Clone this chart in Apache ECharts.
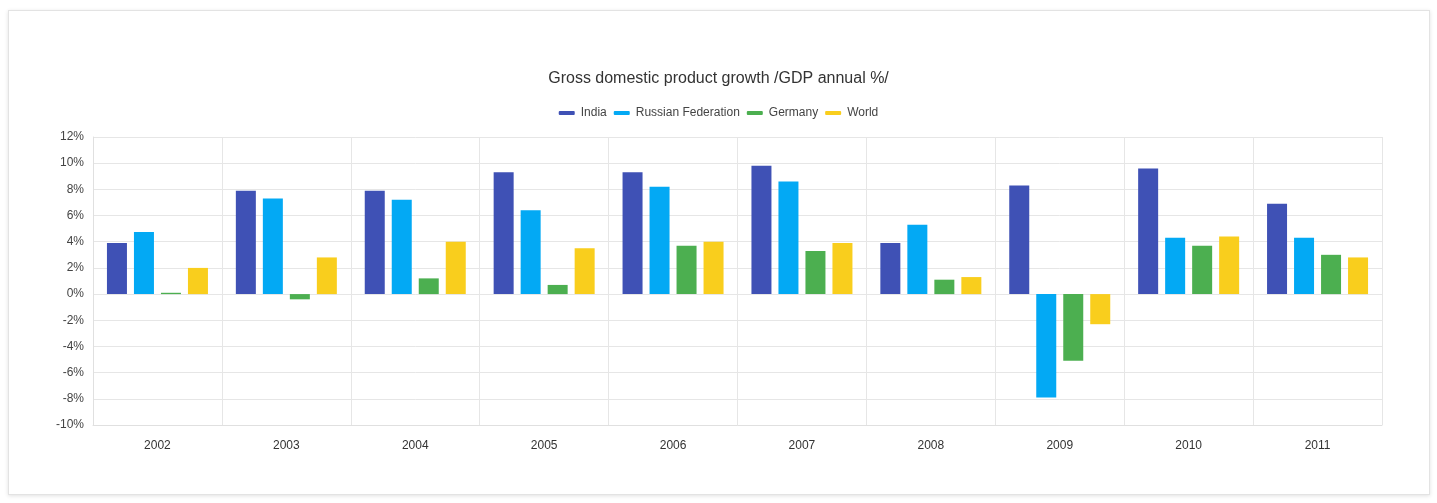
<!DOCTYPE html>
<html>
<head>
<meta charset="utf-8">
<script src="https://cdn.jsdelivr.net/npm/echarts@6/dist/echarts.min.js"></script>
<style>
html,body{margin:0;padding:0;background:#fff;width:1437px;height:503px;overflow:hidden;}
#card{position:absolute;left:8px;top:10px;width:1420px;height:483px;border:1px solid #e3e3e3;box-shadow:0 1px 4px rgba(0,0,0,0.12);background:#fff;}
#chart{position:absolute;left:0;top:0;width:1437px;height:503px;}
</style>
</head>
<body>
<div id="card"></div>
<div id="chart"></div>
<script>
const categories = ['2002','2003','2004','2005','2006','2007','2008','2009','2010','2011'];
const india   = [3.9, 7.9, 7.9, 9.3, 9.3, 9.8, 3.9, 8.3, 9.6, 6.9];
const russia  = [4.75, 7.3, 7.2, 6.4, 8.2, 8.6, 5.3, -7.9, 4.3, 4.3];
const germany = [0.1, -0.4, 1.2, 0.7, 3.7, 3.3, 1.1, -5.1, 3.7, 3.0];
const world   = [2.0, 2.8, 4.0, 3.5, 4.0, 3.9, 1.3, -2.3, 4.4, 2.8];
const seriesNames = ['India', 'Russian Federation', 'Germany', 'World'];
const colors = ['#3F51B5', '#03A9F4', '#4CAF50', '#F9CE1D'];
const values = [india, russia, germany, world];

const chart = echarts.init(document.getElementById('chart'), null, {renderer: 'canvas'});
chart.setOption({
  animation: false,
  title: {
    text: 'Gross domestic product growth /GDP annual %/',
    left: 'center', top: 66,
    textStyle: {fontFamily: 'Arial, Liberation Sans, sans-serif', fontSize: 16, fontWeight: 'normal', color: '#333'}
  },
  legend: {
    top: 102, left: 'center',
    icon: 'roundRect', itemWidth: 16, itemHeight: 4, itemGap: 7,
    textStyle: {fontFamily: 'Arial, Liberation Sans, sans-serif', fontSize: 12, color: '#444', padding: [0, 0, 0, 1]},
    data: seriesNames
  },
  grid: {left: 93, right: 55, top: 137, bottom: 78},
  xAxis: {
    type: 'category', data: categories,
    axisLine: {onZero: false, lineStyle: {color: '#e0e0e0'}},
    axisTick: {show: false},
    splitLine: {show: true, lineStyle: {color: '#e6e6e6'}},
    axisLabel: {fontFamily: 'Arial, Liberation Sans, sans-serif', fontSize: 12, color: '#333', margin: 15}
  },
  yAxis: {
    type: 'value', min: -10, max: 12, interval: 2,
    axisLine: {show: true, lineStyle: {color: '#e0e0e0'}},
    axisTick: {show: false},
    splitLine: {lineStyle: {color: '#e6e6e6'}},
    axisLabel: {formatter: '{value}%', fontFamily: 'Arial, Liberation Sans, sans-serif', fontSize: 12, color: '#444', margin: 9}
  },
  series: seriesNames.map((n, i) => ({
    name: n, type: 'bar', data: values[i],
    barWidth: 20, barGap: '35%',
    itemStyle: {color: colors[i]}
  }))
});
</script>
</body>
</html>
